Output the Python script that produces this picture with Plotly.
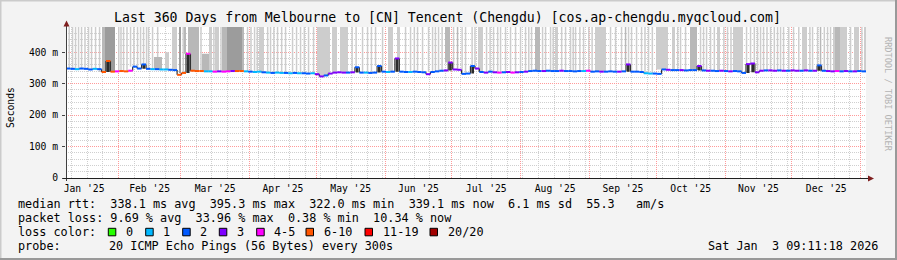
import plotly.graph_objects as go
from datetime import datetime, timedelta

# ---------------- data ----------------
START = datetime(2025, 1, 8, 9, 11, 18)
SPAN_DAYS = 360
STEP_DAYS = 2

# median RTT (ms), one sample every 2 days
median_ms = [
    348, 347, 346, 348, 347, 345, 347, 346,
    337, 372,
    338, 339, 340, 339, 341,
    354, 348, 361,
    347, 346, 346, 345, 345, 344, 343,
    328, 334, 395, 341, 340, 340,
    339, 339,
    338, 339, 338, 339, 340,
    340, 340,
    339, 338, 337, 338, 336,
    335, 334, 335, 334, 334, 333, 334, 333, 333, 332, 333,
    330, 323, 326, 332,
    335, 336, 335, 335, 336, 352,
    335, 335, 334, 335,
    356,
    338, 337, 338,
    380,
    338, 337, 337, 338, 337, 336,
    330,
    337, 339, 341, 342,
    367,
    345, 344,
    331, 332,
    356,
    348, 337, 335, 338, 336, 335, 336, 337, 335, 336, 337, 338,
    340, 341, 340, 340, 341, 340, 340, 341, 340, 340, 339, 340, 340,
    341,
    338, 339, 338, 338, 339, 338, 338, 339,
    361,
    338, 338, 337,
    333, 332, 332, 331,
    345, 344, 343, 343, 343, 342, 343,
    343, 356,
    342, 341, 341, 340, 341, 340, 339, 340, 339,
    334,
    362, 364,
    336,
    341, 342, 342, 341, 342, 341, 341, 342, 341, 341, 342, 341,
    341, 358,
    341, 340, 339, 340, 339, 340, 339, 339, 340, 339, 339,
]

# loss bucket index per sample (0:"0" 1:"1" 2:"2" 3:"3" 4:"4-5" 5:"6-10" 6:"11-19" 7:"20/20")
loss_bucket = [
    2, 2, 1, 2, 2, 2, 1, 2,
    5, 5,
    5, 4, 5, 5, 4,
    2, 2, 2, 2, 1, 2, 1, 1, 2, 2,
    5, 5, 4, 5, 5, 5,
    1, 1,
    4, 3, 4, 4, 3,
    5, 5,
    1, 2, 1, 1, 2,
    1, 2, 1, 1, 2, 1, 2, 1, 2, 2, 1,
    3, 3, 2, 3,
    3, 3, 3, 2, 3, 2,
    2, 1, 2, 2,
    2,
    2, 1, 2,
    3,
    2, 2, 1, 2, 2, 2,
    3,
    2, 2, 2, 3,
    3,
    3, 3,
    2, 2,
    2,
    3, 2, 3, 2, 3, 4, 2, 3, 4, 3, 2, 3,
    2, 2, 2, 3, 2, 2, 2, 3, 2, 2, 2, 2, 1,
    4,
    2, 2, 3, 2, 2, 2, 3, 2,
    3,
    2, 2, 2,
    1, 1, 2, 2,
    2, 3, 2, 2, 3, 2, 2,
    2, 3,
    2, 3, 2, 2, 3, 2, 3, 2, 2,
    2,
    3, 3,
    3,
    3, 2, 3, 3, 2, 3, 2, 3, 3, 2, 3, 2,
    3, 2,
    2, 3, 3, 4, 2, 3, 2, 3, 2, 2, 3,
]

loss_labels = ["0", "1", "2", "3", "4-5", "6-10", "11-19", "20/20"]
loss_colors = ["#26ff00", "#00b8ff", "#0059ff", "#7e00ff",
               "#ff00ff", "#ff5500", "#ff0000", "#a10000"]

# smoke (spread of the 20 pings): day span, density level, top (ms)
smoke_from_day = [
    2.7, 4.05, 5.4, 6.75, 8.3, 9.9, 11.25, 13.05, 14.85, 16.2, 17.55,
    25.65, 28.8, 31.95, 34.65, 36.9, 38.7, 39.6, 44.55, 47.7, 50.85,
    53.1, 54.9, 61.2, 64.35, 67.05, 70.2, 72.45, 79.2, 81.45, 83.0,
    84.6, 86.85, 91.8, 94.95, 98.55, 101.7, 105.3, 108.9, 111.15, 112.95,
    119.7, 123.3, 130.3, 133.2, 135.45, 139.05, 144.9, 148.95, 152.55, 154.8,
    157.95, 160.2, 162.9, 164.7, 167.4, 170.55, 174.15, 175.95, 179.55, 185.4,
    189.0, 192.15, 195.3, 197.55, 199.8, 202.05, 206.55, 209.25, 211.05, 215.55,
    217.8, 220.05, 224.55, 226.8, 229.05, 232.65, 238.05, 244.8, 247.05, 249.75,
    251.55, 254.25, 256.5, 258.75, 261.9, 265.5, 272.7, 276.3, 278.55, 280.8,
    285.3, 286.65, 289.8, 292.95, 297.45, 300.15, 307.8, 310.95, 313.65, 316.8,
    319.95, 322.65, 327.15, 331.2, 335.7, 337.95, 339.3, 342.45, 345.15, 346.05,
    354.6, 359.1,
]
smoke_to_day = [
    3.2, 4.55, 5.9, 7.25, 8.8, 10.4, 11.75, 13.55, 15.35, 17.55, 22.05,
    26.15, 29.3, 32.45, 35.15, 37.4, 39.2, 43.2, 46.35, 49.95, 51.75,
    54.0, 59.85, 64.35, 65.7, 68.85, 72.45, 79.2, 80.1, 81.95, 83.5,
    85.1, 89.1, 92.3, 95.45, 99.05, 102.2, 105.8, 109.4, 111.65, 118.8,
    121.95, 126.9, 130.8, 133.7, 135.95, 139.55, 147.15, 150.3, 153.05, 155.3,
    158.45, 160.7, 163.4, 165.2, 167.9, 172.8, 174.65, 176.45, 180.05, 187.65,
    189.5, 192.65, 195.8, 198.05, 200.3, 202.55, 207.05, 209.75, 213.3, 216.05,
    218.3, 221.4, 225.05, 227.3, 229.55, 233.15, 243.0, 245.3, 247.55, 250.25,
    252.05, 254.75, 257.0, 259.25, 262.4, 270.9, 274.05, 276.8, 279.05, 283.95,
    285.8, 287.15, 290.3, 294.3, 297.95, 304.65, 308.3, 311.45, 314.15, 317.3,
    320.45, 323.15, 327.65, 333.45, 336.2, 338.45, 339.8, 342.95, 351.45, 348.3,
    356.85, 360.0,
]
smoke_level = [
    1, 1, 1, 1, 1, 1, 1, 1, 1, 2, 3,
    1, 1, 1, 1, 1, 1, 2, 1, 1, 3,
    2, 2, 2, 1, 1, 2, 3, 2, 1, 1,
    1, 1, 1, 1, 1, 1, 1, 1, 1, 1,
    1, 1, 1, 1, 1, 1, 1, 1, 1, 1,
    1, 1, 1, 1, 1, 2, 1, 2, 1, 1,
    1, 1, 1, 1, 1, 1, 1, 1, 2, 1,
    1, 1, 1, 1, 1, 1, 1, 1, 1, 1,
    2, 1, 1, 1, 1, 1, 1, 1, 1, 2,
    1, 1, 1, 1, 1, 1, 1, 1, 1, 1,
    1, 1, 1, 1, 1, 1, 2, 1, 1, 2,
    1, 1,
]
smoke_top_ms = [
    480, 480, 480, 480, 480, 480, 480, 480, 480, 480, 480,
    480, 480, 480, 480, 480, 480, 385, 400, 480, 480,
    480, 480, 395, 480, 480, 480, 480, 480, 480, 480,
    480, 480, 480, 480, 480, 480, 480, 480, 480, 480,
    480, 480, 480, 480, 480, 480, 480, 480, 480, 480,
    480, 480, 480, 480, 480, 480, 480, 480, 480, 480,
    480, 480, 480, 480, 480, 480, 480, 480, 480, 480,
    480, 480, 480, 480, 480, 480, 480, 480, 480, 480,
    480, 480, 480, 480, 480, 480, 480, 480, 480, 480,
    480, 480, 480, 480, 480, 480, 480, 480, 480, 480,
    480, 480, 480, 480, 480, 480, 480, 480, 480, 480,
    480, 480,
]
# further single high-RTT smoke strokes (day of stroke), full height
smoke_stroke_day = [
    1.2, 19.0, 23.5, 24.5, 27.2, 30.3, 33.3, 36.0, 41.0, 52.5, 60.5, 66.3,
    69.5, 85.8, 88.0, 90.5, 93.3, 96.8, 103.5, 107.0, 128.5, 137.2, 142.2,
    156.5, 166.0, 169.0, 178.0, 182.5, 183.8, 190.6, 194.0, 204.3, 208.0,
    214.2, 219.0, 222.8, 228.0, 231.0, 235.0, 236.5, 252.9, 260.3, 263.6,
    275.0, 288.0, 291.5, 295.8, 299.0, 306.0, 309.5, 312.3, 315.2, 318.5,
    321.3, 325.0, 329.5, 334.5, 341.0, 343.8, 352.8, 357.9,
]

y_tick_vals = [0, 100, 200, 300, 400]
y_tick_text = ["0", "100 m", "200 m", "300 m", "400 m"]

title_text = "Last 360 Days from Melbourne to [CN] Tencent (Chengdu) [cos.ap-chengdu.myqcloud.com]"
rtt_row = "median rtt:  338.1 ms avg  395.3 ms max  322.0 ms min  339.1 ms now  6.1 ms sd  55.3   am/s"
loss_row = "packet loss: 9.69 % avg  33.96 % max  0.38 % min  10.34 % now"
probe_text = "20 ICMP Echo Pings (56 Bytes) every 300s"
stamp_text = "Sat Jan  3 09:11:18 2026"

# ---------------- styling / layout constants ----------------
W, H = 897, 260
L, R, T, B = 66, 31, 27, 82
PW, PH = W - L - R, H - T - B
BG = "#f3f3f3"
MGRID = "#ff9a9a"
GRID = "#cfcfcf"
FONT = "DejaVu Sans Mono"
SMOKE_SHADES = {1: "#cdcdcd", 2: "#b8b8b8", 3: "#9c9c9c"}
DAY_MS = 86400000


def px(x):
    return (x - L) / PW


def py(y):
    return (T + PH - y) / PH


def day_to_date(d):
    return START + timedelta(days=d)


n = len(median_ms)
sample_days = [i * STEP_DAYS for i in range(n)]
sample_dates = [day_to_date(d) for d in sample_days]


def median_near(d):
    return median_ms[min(int(round(d / STEP_DAYS)), n - 1)]


fig = go.Figure()

# smoke columns: thin ones as vertical strokes, wider ones as filled blocks
all_from = smoke_from_day + smoke_stroke_day
all_to = smoke_to_day + [d + 0.5 for d in smoke_stroke_day]
all_lev = smoke_level + [1] * len(smoke_stroke_day)
all_top = smoke_top_ms + [480] * len(smoke_stroke_day)
for lev in (1, 2, 3):
    lx, ly, fx, fy = [], [], [], []
    for a, b, lv, top in zip(all_from, all_to, all_lev, all_top):
        if lv != lev:
            continue
        mid = (a + b) / 2
        base = median_near(mid)
        if b - a < 0.8:
            lx += [day_to_date(mid), day_to_date(mid), None]
            ly += [base, top, None]
        else:
            fx += [day_to_date(a), day_to_date(b), day_to_date(b), day_to_date(a), day_to_date(a), None]
            fy += [base, base, top, top, base, None]
    if fx:
        fig.add_trace(go.Scatter(x=fx, y=fy, mode="lines", fill="toself",
                                 fillcolor=SMOKE_SHADES[lev],
                                 line=dict(width=0, color=SMOKE_SHADES[lev]),
                                 hoverinfo="skip"))
    if lx:
        fig.add_trace(go.Scatter(x=lx, y=ly, mode="lines",
                                 line=dict(color=SMOKE_SHADES[lev], width=1.5),
                                 hoverinfo="skip"))

# dense (dark) smoke under spikes of the median
kx, ky = [], []
for i in range(1, n - 1):
    nb = (median_ms[i - 1] + median_ms[i + 1]) / 2
    if median_ms[i] - nb > 10:
        lo = min(median_ms[i - 1], median_ms[i + 1])
        c = sample_days[i] + STEP_DAYS / 2
        a, b = c - 0.6, c + 0.6
        kx += [day_to_date(a), day_to_date(b), day_to_date(b), day_to_date(a), day_to_date(a), None]
        ky += [lo, lo, median_ms[i], median_ms[i], lo, None]
fig.add_trace(go.Scatter(x=kx, y=ky, mode="lines", fill="toself",
                         fillcolor="#2b2b2b", line=dict(width=0, color="#2b2b2b"),
                         hoverinfo="skip"))

# vertical transitions of the median (dark)
vx, vy = [], []
for i in range(n - 1):
    if median_ms[i] != median_ms[i + 1]:
        vx += [sample_dates[i + 1], sample_dates[i + 1], None]
        vy += [median_ms[i], median_ms[i + 1], None]
fig.add_trace(go.Scatter(x=vx, y=vy, mode="lines",
                         line=dict(color="#303030", width=1.2), hoverinfo="skip"))

# median plateaus coloured by loss bucket
for bucket, col in enumerate(loss_colors):
    xs, ys = [], []
    for i in range(n - 1):
        if loss_bucket[i] != bucket:
            continue
        xs += [sample_dates[i], sample_dates[i + 1], None]
        ys += [median_ms[i], median_ms[i], None]
    if xs:
        fig.add_trace(go.Scatter(x=xs, y=ys, mode="lines",
                                 line=dict(color=col, width=2),
                                 hoverinfo="skip"))

fig.update_layout(
    width=W, height=H,
    margin=dict(l=L, r=R, t=T, b=B, pad=0),
    paper_bgcolor=BG, plot_bgcolor="#ffffff",
    showlegend=False,
    hovermode=False,
    font=dict(family=FONT, color="#000000", size=9.7),
)

fig.update_xaxes(
    type="date",
    range=[day_to_date(0), day_to_date(SPAN_DAYS)],
    tick0="2025-01-01", dtick="M1",
    ticklabelmode="period", tickformat="%b '%y",
    ticks="", showline=False, zeroline=False,
    ticklabelstandoff=3,
    showgrid=True, gridcolor=MGRID, griddash="1px,1px", gridwidth=1,
    minor=dict(tick0="2025-01-04", dtick=7 * DAY_MS, showgrid=True,
               gridcolor=GRID, griddash="1px,1px", gridwidth=1),
    tickfont=dict(family=FONT, size=9.7, color="#000000"),
    layer="above traces", fixedrange=True,
)
fig.update_yaxes(
    range=[0, 480],
    tickmode="array", tickvals=y_tick_vals, ticktext=y_tick_text,
    ticks="outside", ticklen=3, tickcolor="#444444",
    ticklabelstandoff=2,
    showline=False, zeroline=False,
    showgrid=True, gridcolor=MGRID, griddash="1px,1px", gridwidth=1,
    minor=dict(tickmode="linear", tick0=0, dtick=20, showgrid=True,
               gridcolor=GRID, griddash="1px,1px", gridwidth=1),
    tickfont=dict(family=FONT, size=9.7, color="#000000"),
    layer="above traces", fixedrange=True,
)

shapes = []
# frame shading
shapes.append(dict(type="rect", xref="paper", yref="paper", x0=px(0), x1=px(W), y0=py(0), y1=py(1.5),
                   fillcolor="#cbcbcb", line=dict(width=0)))
shapes.append(dict(type="rect", xref="paper", yref="paper", x0=px(0), x1=px(1.5), y0=py(0), y1=py(H),
                   fillcolor="#cbcbcb", line=dict(width=0)))
shapes.append(dict(type="rect", xref="paper", yref="paper", x0=px(0), x1=px(W), y0=py(H - 2), y1=py(H),
                   fillcolor="#999999", line=dict(width=0)))
shapes.append(dict(type="rect", xref="paper", yref="paper", x0=px(W - 2), x1=px(W), y0=py(0), y1=py(H),
                   fillcolor="#999999", line=dict(width=0)))
# axes
shapes.append(dict(type="line", xref="paper", yref="paper", x0=px(66.5), x1=px(66.5), y0=py(181), y1=py(23),
                   line=dict(color="#404040", width=1)))
shapes.append(dict(type="line", xref="paper", yref="paper", x0=px(63), x1=px(869), y0=py(178.5), y1=py(178.5),
                   line=dict(color="#202020", width=1)))
# arrows
shapes.append(dict(type="path", xref="paper", yref="paper",
                   path="M %f %f L %f %f L %f %f Z" % (px(63.5), py(26.5), px(69.5), py(26.5), px(66.5), py(20.5)),
                   fillcolor="#7f1f1f", line=dict(width=0)))
shapes.append(dict(type="path", xref="paper", yref="paper",
                   path="M %f %f L %f %f L %f %f Z" % (px(868), py(175.5), px(868), py(181.5), px(874), py(178.5)),
                   fillcolor="#7f1f1f", line=dict(width=0)))

annotations = []


def text(x, y, s, size=11.8, anchor="left", color="#000000", angle=0):
    annotations.append(dict(xref="paper", yref="paper", x=px(x), y=py(y), text=s,
                            showarrow=False, xanchor=anchor, yanchor="middle",
                            textangle=angle,
                            font=dict(family=FONT, size=size, color=color)))


text(447, 18, title_text, size=13.2, anchor="center")
text(10, 107, "Seconds", size=9.7, anchor="center", angle=-90)
text(888, 94, "RRDTOOL / TOBI OETIKER", size=8.6, anchor="center", color="#b4b4b4", angle=90)

ROW = [204.3, 218.3, 232.3, 246.3]
text(16, ROW[0], rtt_row.replace(" ", "&nbsp;"))
text(16, ROW[1], loss_row.replace(" ", "&nbsp;"))
text(16, ROW[2], "loss color:")
box_left = [108.3, 145.7, 182.7, 219.3, 256.7, 306.0, 365.0, 430.0]
for bx, lab, col in zip(box_left, loss_labels, loss_colors):
    shapes.append(dict(type="rect", xref="paper", yref="paper",
                       x0=px(bx), x1=px(bx + 7.5), y0=py(228.3), y1=py(235.8),
                       fillcolor=col, line=dict(color="#000000", width=1)))
    text(bx + 15.5, ROW[2], lab)
text(16, ROW[3], "probe:")
text(107.3, ROW[3], probe_text)
text(880, ROW[3], stamp_text.replace(" ", "&nbsp;"), anchor="right")

fig.update_layout(shapes=shapes, annotations=annotations)
fig.write_html("out.html")
